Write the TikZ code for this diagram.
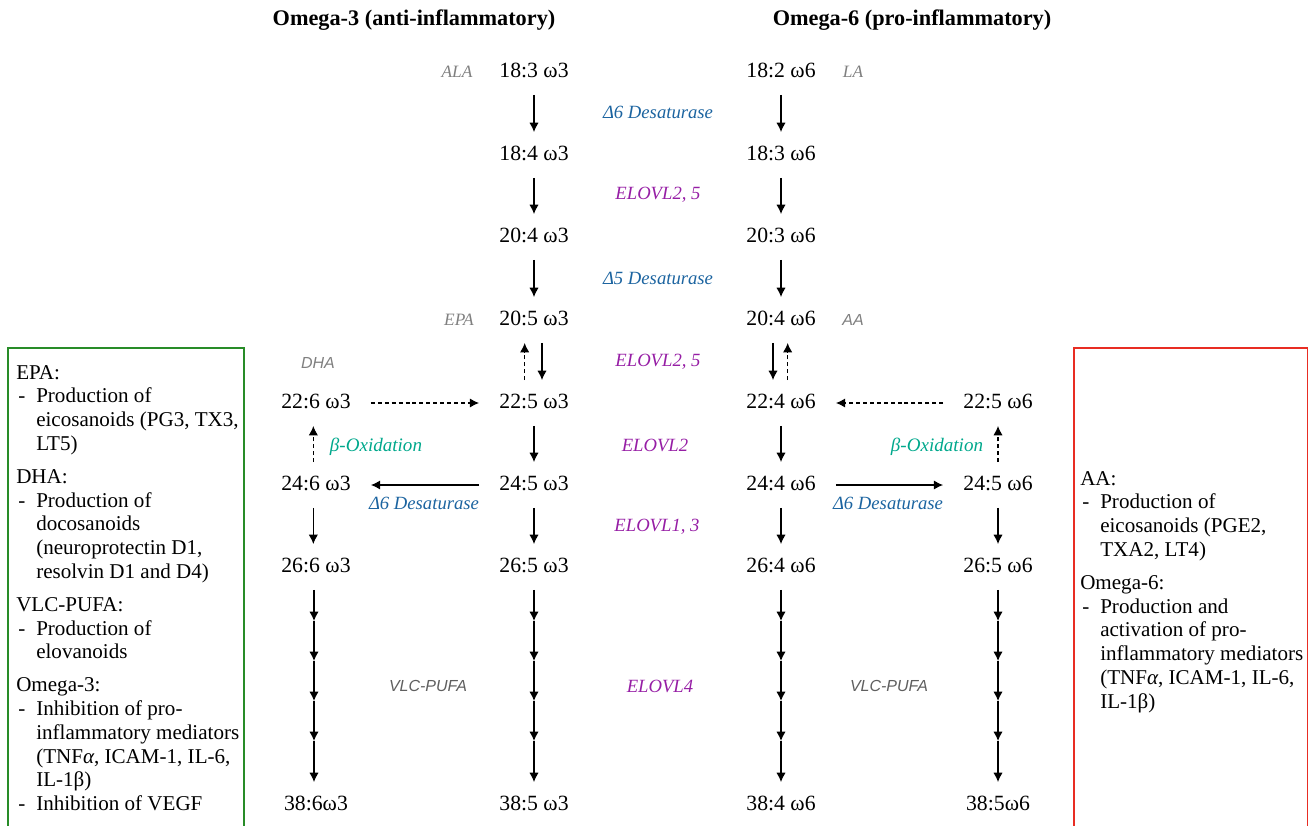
\documentclass[tikz,border=0pt]{standalone}
\usepackage{fontspec}
\setmainfont{Liberation Serif}
\setsansfont{Liberation Sans}
\usetikzlibrary{arrows.meta}
\definecolor{enzblue}{RGB}{28,100,160}
\definecolor{enzpurple}{RGB}{150,30,165}
\definecolor{oxteal}{RGB}{0,168,140}
\definecolor{lblgray}{RGB}{128,128,128}
\definecolor{vlcgray}{RGB}{95,95,95}
\definecolor{boxgreen}{RGB}{40,140,40}
\definecolor{boxred}{RGB}{232,45,35}
\newcommand{\ditem}[1]{\makebox[15pt][l]{\hspace{1.5pt}-}#1}
\newcommand{\contline}[1]{\hspace*{15pt}#1}
\begin{document}
\begin{tikzpicture}[x=0.75pt,y=-0.75pt,
  fa/.style={font=\fontsize{16.3}{19}\selectfont, inner xsep=15pt, inner ysep=10pt, text height=11pt, text depth=3pt},
  enz/.style={font=\fontsize{14}{17}\selectfont\itshape, inner sep=0pt},
  blue enz/.style={enz, text=enzblue},
  purple enz/.style={enz, text=enzpurple},
  oxlbl/.style={enz, font=\fontsize{14.3}{17}\selectfont\itshape, text=oxteal},
  namelbl/.style={font=\fontsize{13}{16}\selectfont\itshape, text=lblgray, inner sep=0pt},
  namelblsf/.style={font=\fontsize{12}{15}\selectfont\sffamily\itshape, text=lblgray, inner sep=0pt},
  vlclbl/.style={font=\fontsize{12}{15}\selectfont\sffamily\itshape, text=vlcgray, inner sep=0pt},
  title/.style={font=\fontsize{16.7}{20}\selectfont\bfseries, inner sep=0pt},
  boxtext/.style={font=\fontsize{15.8}{17.8}\selectfont, align=left, inner sep=0pt, anchor=north west},
  arr/.style={-{Latex[length=7pt,width=7pt]}, line width=1pt},
  darr/.style={arr, dash pattern=on 3pt off 2.2pt},
]
\useasboundingbox (0,0) rectangle (1309,825);

% titles
\node[title] (t3) at (414,20) {Omega-3 (anti-inflammatory)};
\node[title] (t6) at (912,20) {Omega-6 (pro-inflammatory)};

% omega-3 main column
\node[fa] (b1) at (534,72) {18:3 ω3};
\node[fa] (b2) at (534,155) {18:4 ω3};
\node[fa] (b3) at (534,237) {20:4 ω3};
\node[fa] (b4) at (534,320) {20:5 ω3};
\node[fa] (b5) at (534,403) {22:5 ω3};
\node[fa] (b6) at (534,485) {24:5 ω3};
\node[fa] (b7) at (534,567) {26:5 ω3};
\node[fa] (b8) at (534,805) {38:5 ω3};
% omega-3 side column
\node[fa] (a5) at (316,403) {22:6 ω3};
\node[fa] (a6) at (316,485) {24:6 ω3};
\node[fa] (a7) at (316,567) {26:6 ω3};
\node[fa] (a8) at (316,805) {38:6ω3};
% omega-6 main column
\node[fa] (c1) at (781,72) {18:2 ω6};
\node[fa] (c2) at (781,155) {18:3 ω6};
\node[fa] (c3) at (781,237) {20:3 ω6};
\node[fa] (c4) at (781,320) {20:4 ω6};
\node[fa] (c5) at (781,403) {22:4 ω6};
\node[fa] (c6) at (781,485) {24:4 ω6};
\node[fa] (c7) at (781,567) {26:4 ω6};
\node[fa] (c8) at (781,805) {38:4 ω6};
% omega-6 side column
\node[fa] (d5) at (998,403) {22:5 ω6};
\node[fa] (d6) at (998,485) {24:5 ω6};
\node[fa] (d7) at (998,567) {26:5 ω6};
\node[fa] (d8) at (998,805) {38:5ω6};

% name labels
\node[namelbl] (ala) at (457,72) {ALA};
\node[namelbl] (la) at (853,72) {LA};
\node[namelbl] (epa) at (459,320) {EPA};
\node[namelblsf] (aa) at (853,320) {AA};
\node[namelblsf] (dha) at (318,363) {DHA};

% enzyme labels
\node[blue enz] (e1) at (658,112) {Δ6 Desaturase};
\node[purple enz] (e2) at (658,195) {ELOVL2, 5};
\node[blue enz] (e3) at (658,278) {Δ5 Desaturase};
\node[purple enz] (e4) at (658,362) {ELOVL2, 5};
\node[purple enz] (e5) at (655,445) {ELOVL2};
\node[purple enz] (e6) at (657,527) {ELOVL1, 3};
\node[purple enz] (e7) at (660,686) {ELOVL4};
\node[oxlbl] (ox3) at (376,447) {β-Oxidation};
\node[oxlbl] (ox6) at (937,447) {β-Oxidation};
\node[blue enz] (ds3) at (424,503) {Δ6 Desaturase};
\node[blue enz] (ds6) at (888,503) {Δ6 Desaturase};
\node[vlclbl] (v3) at (428,686) {VLC-PUFA};
\node[vlclbl] (v6) at (889,686) {VLC-PUFA};

% vertical arrows
\draw[arr] (b1) -- (b2);
\draw[arr] (b2) -- (b3);
\draw[arr] (b3) -- (b4);
\draw[arr] ([xshift=6pt]b4.south) -- ([xshift=6pt]b5.north);
\draw[darr] ([xshift=-7pt]b5.north) -- ([xshift=-7pt]b4.south);
\draw[arr] (b5) -- (b6);
\draw[arr] (b6) -- (b7);
\draw[arr] (c1) -- (c2);
\draw[arr] (c2) -- (c3);
\draw[arr] (c3) -- (c4);
\draw[arr] ([xshift=-6pt]c4.south) -- ([xshift=-6pt]c5.north);
\draw[darr] ([xshift=5pt]c5.north) -- ([xshift=5pt]c4.south);
\draw[arr] (c5) -- (c6);
\draw[arr] (c6) -- (c7);
\draw[darr] ([xshift=-2pt]a6.north) -- ([xshift=-2pt]a5.south);
\draw[arr] ([xshift=-2pt]a6.south) -- ([xshift=-2pt]a7.north);
\draw[darr] (d6) -- (d5);
\draw[arr] (d6) -- (d7);

% horizontal arrows
\draw[darr] (a5) -- (b5);
\draw[darr] (d5) -- (c5);
\draw[arr] (b6) -- (a6);
\draw[arr] (c6) -- (d6);

% VLC-PUFA chains
\foreach \c/\x in {a/314,b/534,c/781,d/998}{
  \foreach \i/\y in {1/621,2/661,3/701,4/741}{
    \coordinate (\c m\i) at (\x,\y);
  }
  \draw[arr] (\c7.south -| \c m1) -- (\c m1);
  \draw[arr] (\c m1) -- (\c m2);
  \draw[arr] (\c m2) -- (\c m3);
  \draw[arr] (\c m3) -- (\c m4);
  \draw[arr] (\c m4) -- (\c8.north -| \c m4);
}

% boxes
\draw[boxgreen, line width=1.1pt] (8,900) -- (8,348) -- (244,348) -- (244,900);
\draw[boxred, line width=1.1pt] (1074,900) -- (1074,348) -- (1307.5,348) -- (1307.5,900);

\node[boxtext] (gtext) at (16,365) {EPA:\\
\ditem{Production of}\\
\contline{eicosanoids (PG3, TX3,}\\
\contline{LT5)}\\[7pt]
DHA:\\
\ditem{Production of}\\
\contline{docosanoids}\\
\contline{(neuroprotectin D1,}\\
\contline{resolvin D1 and D4)}\\[7pt]
VLC-PUFA:\\
\ditem{Production of}\\
\contline{elovanoids}\\[7pt]
Omega-3:\\
\ditem{Inhibition of pro-}\\
\contline{inflammatory mediators}\\
\contline{(TNF\textit{α}, ICAM-1, IL-6,}\\
\contline{IL-1β)}\\
\ditem{Inhibition of VEGF}};

\node[boxtext] (rtext) at (1080,471) {AA:\\
\ditem{Production of}\\
\contline{eicosanoids (PGE2,}\\
\contline{TXA2, LT4)}\\[7pt]
Omega-6:\\
\ditem{Production and}\\
\contline{activation of pro-}\\
\contline{inflammatory mediators}\\
\contline{(TNF\textit{α}, ICAM-1, IL-6,}\\
\contline{IL-1β)}};
\end{tikzpicture}
\end{document}
